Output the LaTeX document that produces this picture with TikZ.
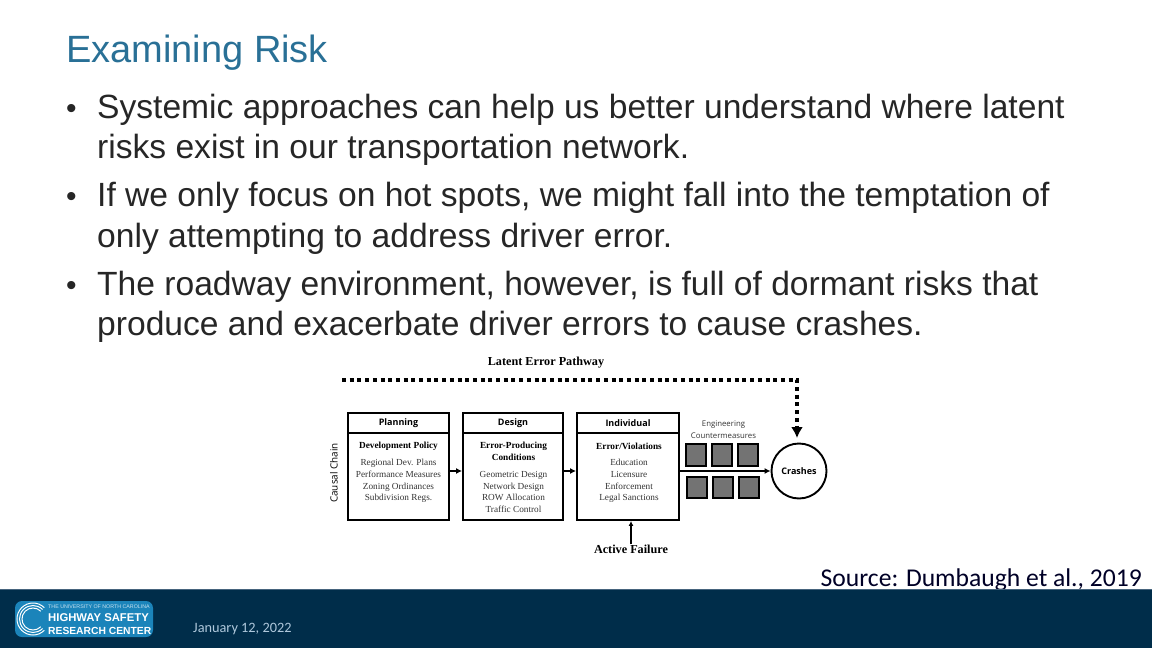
\documentclass[tikz,border=0pt]{standalone}
\usepackage{fontspec}
\setmainfont{Liberation Sans}
\newfontfamily\serifdiag{Liberation Serif}
\newfontfamily\sansdiag{Open Sans}
\newfontfamily\carlito{Carlito}
\usepackage{xcolor}
\usetikzlibrary{arrows.meta}
\definecolor{hsrcnavy}{RGB}{0, 45, 74}
\definecolor{hsrcedge}{RGB}{70, 100, 125}
\definecolor{hsrcblue}{RGB}{27, 132, 186}
\definecolor{titleblue}{RGB}{41, 112, 150}
\definecolor{bodygrey}{RGB}{38, 38, 38}
\definecolor{dategrey}{RGB}{175, 200, 220}
\tikzset{
  bullettext/.style={anchor=base west, inner sep=0pt, text=bodygrey, font=\fontsize{33.6}{33.6}\selectfont},
  framebox/.style={draw, line width=1.9pt, minimum width=#1, inner sep=0pt},
  headtext/.style={inner sep=0pt, font=\sansdiag\bfseries\fontsize{9}{11}\selectfont},
  polhead/.style={inner sep=0pt, align=center, font=\serifdiag\bfseries\fontsize{9.3}{11.5}\selectfont},
  polbody/.style={inner sep=0pt, align=center, text=black!80, font=\serifdiag\fontsize{9.25}{11.7}\selectfont},
  cmbox/.style={draw, line width=1.8pt, fill=black!55, minimum width=20pt, minimum height=21.5pt, inner sep=0pt},
  flowarrow/.style={-{Latex[length=6pt,width=6pt]}, line width=1.9pt},
}
\begin{document}
\begin{tikzpicture}[x=1pt, y=-1pt]
\useasboundingbox (0, 0) rectangle (1152, 648);
\node[anchor=base west, inner sep=0pt, text=titleblue, font=\fontsize{38}{38}\selectfont] (title) at (66, 62) {Examining Risk};
\foreach \y/\t in {
  118/{Systemic approaches can help us better understand where latent},
  158/{risks exist in our transportation network.},
  206/{If we only focus on hot spots, we might fall into the temptation of},
  247/{only attempting to address driver error.},
  295/{The roadway environment, however, is full of dormant risks that},
  335/{produce and exacerbate driver errors to cause crashes.}} {
  \node[bullettext] (line\y) at (97, \y) {\t};
}
\foreach \y in {118, 206, 295} {
  \node[bullettext, font=\fontsize{30}{30}\selectfont] (bullet\y) at (66, \y) {•};
}
\coordinate (headrule) at (0, 433);
\foreach \n/\x/\w/\t in {plan/398.5/101/Planning, design/513/100/Design, indiv/628/102/Individual} {
  \node[framebox=\w pt, minimum height=107pt] (\n) at (\x, 466.5) {};
  \draw[line width=1.9pt] (\n.west |- headrule) -- (\n.east |- headrule);
  \node[headtext] (head\n) at (\x, 423) {\t};
}
\node[polhead] (planpol) at (398.5, 446) {Development Policy};
\node[polbody, anchor=north] (planlist) at (398.5, 459) {Regional Dev. Plans\\Performance Measures\\Zoning Ordinances\\Subdivision Regs.};
\node[polhead, anchor=north] (designpol) at (513.5, 442) {Error-Producing\\Conditions};
\node[polbody, anchor=north] (designlist) at (513.5, 471) {Geometric Design\\Network Design\\ROW Allocation\\Traffic Control};
\node[polhead] (indivpol) at (629, 446) {Error/Violations};
\node[polbody, anchor=north] (indivlist) at (629, 459) {Education\\Licensure\\Enforcement\\Legal Sanctions};
\node[inner sep=0pt, rotate=90, font=\sansdiag\fontsize{9.9}{10}\selectfont] (chain) at (334, 473) {Causal Chain};
\node[inner sep=0pt, font=\serifdiag\bfseries\fontsize{12.2}{12}\selectfont] (latent) at (546, 363) {Latent Error Pathway};
\node[inner sep=0pt, font=\serifdiag\bfseries\fontsize{12.2}{12}\selectfont] (active) at (631, 549) {Active Failure};
\node[inner sep=0pt, align=center, text=black!80, font=\sansdiag\fontsize{7.8}{11.7}\selectfont] (engineering) at (723.5, 429.5) {Engineering\\Countermeasures};
\foreach \n/\x/\y in {cma/696/455, cmb/722/455, cmc/748/455, cmd/697/487.5, cme/723/487.5, cmf/749/487.5} {
  \node[cmbox] (\n) at (\x, \y) {};
}
\node[circle, draw, line width=1.9pt, minimum size=55pt, inner sep=0pt, font=\sansdiag\bfseries\fontsize{9}{10}\selectfont] (crashes) at (799, 471) {Crashes};
\coordinate (latentstart) at (342, 380);
\coordinate (latentend) at (797, 438);
\draw[flowarrow] (plan.east |- crashes.west) -- (design.west |- crashes.west);
\draw[flowarrow] (design.east |- crashes.west) -- (indiv.west |- crashes.west);
\draw[flowarrow] (indiv.east |- crashes.west) -- (crashes.west);
\draw[-{Latex[length=5pt,width=5pt]}, line width=1.3pt] (active.north) -- (active.north |- indiv.south);
\draw[-{Latex[length=11pt,width=12pt]}, line width=3.4pt, dash pattern=on 4pt off 3.7pt] (latentstart) -| (latentend);
\node[anchor=base east, inner sep=0pt, text=black!85!blue, font=\carlito\fontsize{25.6}{25.6}\selectfont] (source) at (1142, 586) {Source: Dumbaugh et al., 2019};
\fill[hsrcnavy] (0, 589) rectangle (1152, 648);
\draw[hsrcedge, line width=0.8pt] (0, 589) -- (1152, 589);
\node[fill=hsrcblue, rounded corners=7pt, minimum width=138pt, minimum height=36pt, inner sep=0pt] (logo) at (84, 619) {};
\foreach \r in {16, 13.5, 11} {
  \draw[white, line width=1pt] (33, 619) ++(-45:\r) arc[start angle=-45, end angle=-315, radius=\r];
}
\node[anchor=base west, inner sep=0pt, text=white!75!hsrcblue, font=\fontsize{5.3}{6}\selectfont] (unc) at (48, 608.5) {THE UNIVERSITY OF NORTH CAROLINA};
\node[anchor=base west, inner sep=0pt, text=white, font=\bfseries\fontsize{11.3}{11}\selectfont] (hsrc) at (48, 621) {HIGHWAY SAFETY};
\node[anchor=base west, inner sep=0pt, text=white, font=\bfseries\fontsize{10.3}{11}\selectfont] (center) at (48, 634) {RESEARCH CENTER};
\node[anchor=base west, inner sep=0pt, text=dategrey, font=\carlito\fontsize{14.3}{14}\selectfont] (date) at (193, 632) {January 12, 2022};
\end{tikzpicture}
\end{document}
